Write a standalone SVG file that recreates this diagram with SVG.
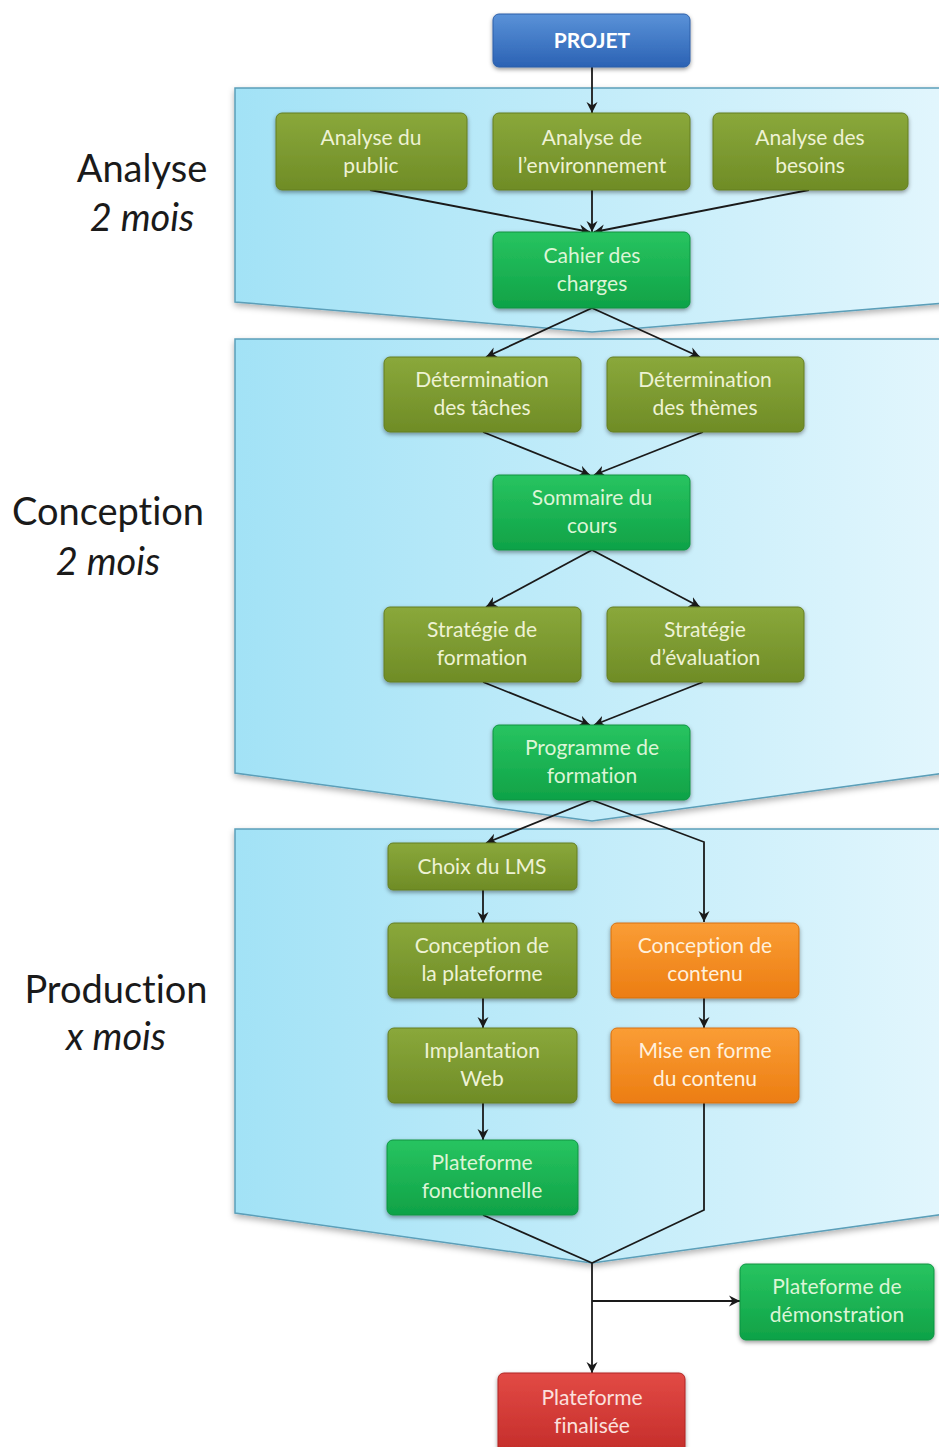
<svg xmlns="http://www.w3.org/2000/svg" width="939" height="1447" viewBox="0 0 939 1447">
<defs>
<linearGradient id="gPanel" x1="0" y1="0" x2="1" y2="0">
<stop offset="0" stop-color="#a2e2f6"/>
<stop offset="1" stop-color="#e2f6fd"/>
</linearGradient>
<linearGradient id="gBlue" x1="0" y1="0" x2="0" y2="1">
<stop offset="0" stop-color="#5a92d8"/>
<stop offset="1" stop-color="#2b62b4"/>
</linearGradient>
<linearGradient id="gOlive" x1="0" y1="0" x2="0" y2="1">
<stop offset="0" stop-color="#8aa83b"/>
<stop offset="1" stop-color="#6f8c26"/>
</linearGradient>
<linearGradient id="gGreen" x1="0" y1="0" x2="0" y2="1">
<stop offset="0" stop-color="#28c460"/>
<stop offset="1" stop-color="#0fa247"/>
</linearGradient>
<linearGradient id="gOrange" x1="0" y1="0" x2="0" y2="1">
<stop offset="0" stop-color="#fa9d35"/>
<stop offset="1" stop-color="#ec7d12"/>
</linearGradient>
<linearGradient id="gRed" x1="0" y1="0" x2="0" y2="1">
<stop offset="0" stop-color="#e24a45"/>
<stop offset="1" stop-color="#c42d2a"/>
</linearGradient>
<filter id="sh" x="-10%" y="-10%" width="120%" height="130%">
<feDropShadow dx="0" dy="2" stdDeviation="2" flood-color="#000" flood-opacity="0.4"/>
</filter>
<filter id="psh" x="-5%" y="-5%" width="110%" height="115%">
<feDropShadow dx="0" dy="3" stdDeviation="3" flood-color="#000" flood-opacity="0.3"/>
</filter>
<marker id="arr" markerUnits="userSpaceOnUse" markerWidth="12" markerHeight="12" refX="11" refY="6" orient="auto">
<path d="M0,0.5 L11,6 L0,11.5 L3.5,6 z" fill="#1a1a1a"/>
</marker>
</defs>
<style>
.panel{fill:url(#gPanel);stroke:#5b9fb9;stroke-width:1.5;filter:url(#psh)}
.box{stroke-width:1;filter:url(#sh)}
.blue{fill:url(#gBlue);stroke:#2c5fa8}
.olive{fill:url(#gOlive);stroke:#647e22}
.green{fill:url(#gGreen);stroke:#0e9443}
.orange{fill:url(#gOrange);stroke:#d7700f}
.red{fill:url(#gRed);stroke:#b02624}
text{font-variant-ligatures:none}
.t{font-family:Lato,"Liberation Sans",sans-serif;font-size:21px;text-anchor:middle}
.to{fill:#eef2d4}
.tg{fill:#dcf5d6}
.tor{fill:#fff0dc}
.tr{fill:#fbe0de}
.side{font-family:Lato,"Liberation Sans",sans-serif;font-size:38px;fill:#1a1a1a;text-anchor:middle}
.conn{fill:none;stroke:#1a1a1a;stroke-width:1.8}
</style>

<g id="panels">
<polygon id="panel-analyse" class="panel" points="235,88 945,88 945,303 592,332 235,302"/>
<polygon id="panel-conception" class="panel" points="235,339 945,339 945,773 592,821 235,773"/>
<polygon id="panel-production" class="panel" points="235,829 945,829 945,1214 592,1263 235,1213"/>
</g>

<g id="labels">
<text class="side" x="142" y="182">Analyse</text>
<text class="side" x="142" y="231" font-style="italic">2 mois</text>
<text class="side" x="108" y="525">Conception</text>
<text class="side" x="108" y="575" font-style="italic">2 mois</text>
<text class="side" x="116" y="1003">Production</text>
<text class="side" x="116" y="1050" font-style="italic">x mois</text>
</g>

<g id="connectors">
<path class="conn" d="M592,67 L592,113" marker-end="url(#arr)"/>
<path class="conn" d="M370,190 L590,232" marker-end="url(#arr)"/>
<path class="conn" d="M592,190 L592,232" marker-end="url(#arr)"/>
<path class="conn" d="M809,190 L594,232" marker-end="url(#arr)"/>
<path class="conn" d="M592,308 L486,357" marker-end="url(#arr)"/>
<path class="conn" d="M592,308 L700,357" marker-end="url(#arr)"/>
<path class="conn" d="M483,432 L590,475" marker-end="url(#arr)"/>
<path class="conn" d="M703,432 L594,475" marker-end="url(#arr)"/>
<path class="conn" d="M592,550 L486,607" marker-end="url(#arr)"/>
<path class="conn" d="M592,550 L700,607" marker-end="url(#arr)"/>
<path class="conn" d="M483,682 L590,725" marker-end="url(#arr)"/>
<path class="conn" d="M703,682 L594,725" marker-end="url(#arr)"/>
<path class="conn" d="M592,800 L486,843" marker-end="url(#arr)"/>
<path class="conn" d="M592,800 L704,842 L704,922" marker-end="url(#arr)"/>
<path class="conn" d="M483,890 L483,923" marker-end="url(#arr)"/>
<path class="conn" d="M483,998 L483,1028" marker-end="url(#arr)"/>
<path class="conn" d="M704,998 L704,1028" marker-end="url(#arr)"/>
<path class="conn" d="M483,1103 L483,1140" marker-end="url(#arr)"/>
<path class="conn" d="M483,1215 L592,1263"/>
<path class="conn" d="M704,1103 L704,1210 L592,1263"/>
<path class="conn" d="M592,1263 L592,1373" marker-end="url(#arr)"/>
<path class="conn" d="M592,1301 L740,1301" marker-end="url(#arr)"/>
</g>

<g id="projet">
<rect class="box blue" x="493" y="14" width="197" height="53" rx="6"/>
<text class="t" x="592" y="48" font-weight="bold" fill="#ffffff" font-size="21">PROJET</text>
</g>

<g id="analyse-public">
<rect class="box olive" x="276" y="113" width="191" height="77" rx="6"/>
<text class="t to" x="371" y="145">Analyse du</text>
<text class="t to" x="371" y="173">public</text>
</g>
<g id="analyse-env">
<rect class="box olive" x="493" y="113" width="197" height="77" rx="6"/>
<text class="t to" x="592" y="145">Analyse de</text>
<text class="t to" x="592" y="173">l’environnement</text>
</g>
<g id="analyse-besoins">
<rect class="box olive" x="713" y="113" width="195" height="77" rx="6"/>
<text class="t to" x="810" y="145">Analyse des</text>
<text class="t to" x="810" y="173">besoins</text>
</g>
<g id="cahier">
<rect class="box green" x="493" y="232" width="197" height="76" rx="6"/>
<text class="t tg" x="592" y="263">Cahier des</text>
<text class="t tg" x="592" y="291">charges</text>
</g>

<g id="det-taches">
<rect class="box olive" x="384" y="357" width="197" height="75" rx="6"/>
<text class="t to" x="482" y="387">Détermination</text>
<text class="t to" x="482" y="415">des tâches</text>
</g>
<g id="det-themes">
<rect class="box olive" x="607" y="357" width="197" height="75" rx="6"/>
<text class="t to" x="705" y="387">Détermination</text>
<text class="t to" x="705" y="415">des thèmes</text>
</g>
<g id="sommaire">
<rect class="box green" x="493" y="475" width="197" height="75" rx="6"/>
<text class="t tg" x="592" y="505">Sommaire du</text>
<text class="t tg" x="592" y="533">cours</text>
</g>
<g id="strat-formation">
<rect class="box olive" x="384" y="607" width="197" height="75" rx="6"/>
<text class="t to" x="482" y="637">Stratégie de</text>
<text class="t to" x="482" y="665">formation</text>
</g>
<g id="strat-evaluation">
<rect class="box olive" x="607" y="607" width="197" height="75" rx="6"/>
<text class="t to" x="705" y="637">Stratégie</text>
<text class="t to" x="705" y="665">d’évaluation</text>
</g>
<g id="programme">
<rect class="box green" x="493" y="725" width="197" height="75" rx="6"/>
<text class="t tg" x="592" y="755">Programme de</text>
<text class="t tg" x="592" y="783">formation</text>
</g>

<g id="choix-lms">
<rect class="box olive" x="388" y="843" width="189" height="47" rx="5"/>
<text class="t to" x="482" y="874">Choix du LMS</text>
</g>
<g id="conception-plateforme">
<rect class="box olive" x="388" y="923" width="189" height="75" rx="6"/>
<text class="t to" x="482" y="953">Conception de</text>
<text class="t to" x="482" y="981">la plateforme</text>
</g>
<g id="conception-contenu">
<rect class="box orange" x="611" y="923" width="188" height="75" rx="6"/>
<text class="t tor" x="705" y="953">Conception de</text>
<text class="t tor" x="705" y="981">contenu</text>
</g>
<g id="implantation">
<rect class="box olive" x="388" y="1028" width="189" height="75" rx="6"/>
<text class="t to" x="482" y="1058">Implantation</text>
<text class="t to" x="482" y="1086">Web</text>
</g>
<g id="mise-en-forme">
<rect class="box orange" x="611" y="1028" width="188" height="75" rx="6"/>
<text class="t tor" x="705" y="1058">Mise en forme</text>
<text class="t tor" x="705" y="1086">du contenu</text>
</g>
<g id="plateforme-fonctionnelle">
<rect class="box green" x="387" y="1140" width="191" height="75" rx="6"/>
<text class="t tg" x="482" y="1170">Plateforme</text>
<text class="t tg" x="482" y="1198">fonctionnelle</text>
</g>
<g id="plateforme-demo">
<rect class="box green" x="740" y="1264" width="194" height="76" rx="6"/>
<text class="t tg" x="837" y="1294">Plateforme de</text>
<text class="t tg" x="837" y="1322">démonstration</text>
</g>
<g id="plateforme-finalisee">
<rect class="box red" x="498" y="1373" width="187" height="80" rx="6"/>
<text class="t tr" x="592" y="1405">Plateforme</text>
<text class="t tr" x="592" y="1433">finalisée</text>
</g>
</svg>
